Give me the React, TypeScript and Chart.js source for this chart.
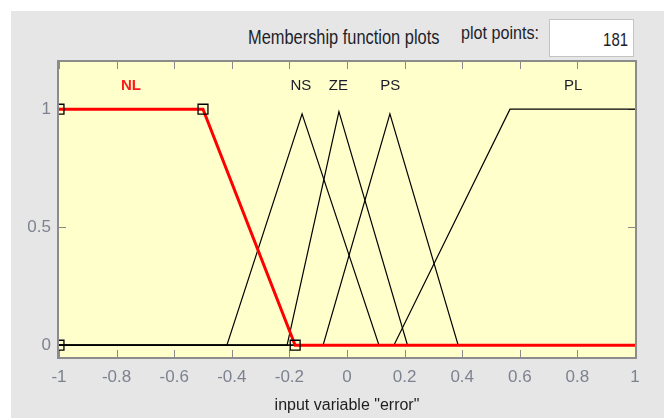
import React, { useEffect, useRef } from "react";
import { Chart, registerables } from "chart.js";

Chart.register(...registerables);

// ---- data ----
const xTickValues = [-1, -0.8, -0.6, -0.4, -0.2, 0, 0.2, 0.4, 0.6, 0.8, 1];
const yTickValues = [0, 0.5, 1];
const mfNames = ["NL", "NS", "ZE", "PS", "PL"];
const nlX = [-1, -0.5, -0.18, 1];
const nlY = [1, 1, 0, 0];
const nsX = [-1, -0.417, -0.156, 0.111, 1];
const nsY = [0, 0, 0.98, 0, 0];
const zeX = [-1, -0.208, -0.028, 0.21, 1];
const zeY = [0, 0, 0.99, 0, 0];
const psX = [-1, -0.083, 0.149, 0.386, 1];
const psY = [0, 0, 0.98, 0, 0];
const plX = [-1, 0.163, 0.566, 1];
const plY = [0, 0, 1, 1];
const nlParamX = [-1, -1, -0.5, -0.18];
const nlParamY = [0, 1, 1, 0];
const labelX = [-0.75, -0.16, -0.03, 0.15, 0.785];
const labelY = [1.1, 1.1, 1.1, 1.1, 1.1];
const labelColors = ["#ff1a1a", "#1a1a2a", "#1a1a2a", "#1a1a2a", "#1a1a2a"];
const labelWeights = ["bold", "normal", "normal", "normal", "normal"];
const plotPoints = "181";

const pts = (xs: number[], ys: number[]) => xs.map((x, i) => ({ x, y: ys[i] }));

const FONT = "'Liberation Sans', Arial, sans-serif";

const framePlugin = {
  id: "frame",
  beforeDraw(chart: any) {
    const { ctx, chartArea: a } = chart;
    ctx.save();
    ctx.fillStyle = "#ffffcc";
    ctx.fillRect(a.left, a.top, a.right - a.left, a.bottom - a.top);
    ctx.restore();
  },
  beforeDatasetsDraw(chart: any) {
    const { ctx, chartArea: a, scales } = chart;
    ctx.save();
    ctx.strokeStyle = "#8a8a8a";
    ctx.lineWidth = 1;
    const tl = 7;
    xTickValues.forEach((v) => {
      const px = Math.round(scales.x.getPixelForValue(v)) + 0.5;
      ctx.beginPath();
      ctx.moveTo(px, a.top);
      ctx.lineTo(px, a.top + tl);
      ctx.moveTo(px, a.bottom);
      ctx.lineTo(px, a.bottom - tl);
      ctx.stroke();
    });
    yTickValues.forEach((v) => {
      const py = Math.round(scales.y.getPixelForValue(v)) + 0.5;
      ctx.beginPath();
      ctx.moveTo(a.left, py);
      ctx.lineTo(a.left + tl, py);
      ctx.moveTo(a.right, py);
      ctx.lineTo(a.right - tl, py);
      ctx.stroke();
    });
    ctx.restore();
  },
  afterDatasetsDraw(chart: any) {
    const { ctx, chartArea: a, scales } = chart;
    ctx.save();
    ctx.textAlign = "center";
    ctx.textBaseline = "middle";
    mfNames.forEach((n, i) => {
      ctx.font = `${labelWeights[i]} 15px ${FONT}`;
      ctx.fillStyle = labelColors[i];
      ctx.fillText(n, scales.x.getPixelForValue(labelX[i]), scales.y.getPixelForValue(labelY[i]));
    });
    ctx.strokeStyle = "#8c8c8c";
    ctx.lineWidth = 2;
    ctx.strokeRect(a.left - 1, a.top - 1, a.right - a.left + 2, a.bottom - a.top + 2);
    ctx.restore();
  },
};

const textStyle = (extra: any) => ({
  position: "absolute" as const,
  fontFamily: FONT,
  lineHeight: "22px",
  color: "#1e1e2a",
  whiteSpace: "nowrap" as const,
  ...extra,
});

export default function App() {
  const ref = useRef<HTMLCanvasElement>(null);
  useEffect(() => {
    if (!ref.current) return;
    const black = (xs: number[], ys: number[]) => ({
      type: "line" as const,
      data: pts(xs, ys),
      borderColor: "#000000",
      borderWidth: 1.2,
      pointRadius: 0,
      tension: 0,
      order: 3,
    });
    const chart = new Chart(ref.current, {
      type: "line",
      data: {
        datasets: [
          {
            type: "scatter",
            data: pts(nlParamX, nlParamY),
            pointStyle: "rect",
            pointRadius: 7,
            pointBorderColor: "#000000",
            pointBackgroundColor: "rgba(0,0,0,0)",
            pointBorderWidth: 1.3,
            showLine: false,
            clip: 0,
            order: 0,
          } as any,
          {
            data: pts(nlX, nlY),
            borderColor: "#ff0000",
            borderWidth: 3,
            pointRadius: 0,
            tension: 0,
            order: 1,
          },
          black(nsX, nsY),
          black(zeX, zeY),
          black(psX, psY),
          black(plX, plY),
        ],
      },
      options: {
        animation: false,
        responsive: false,
        layout: { padding: { top: 62, right: 29, bottom: 0, left: 0 } },
        plugins: { legend: { display: false }, tooltip: { enabled: false }, title: { display: false } },
        scales: {
          x: {
            type: "linear",
            min: -1,
            max: 1,
            grid: { display: false, drawTicks: false },
            border: { display: false },
            afterBuildTicks: (s: any) => {
              s.ticks = xTickValues.map((v) => ({ value: v }));
            },
            afterFit: (s: any) => {
              s.height = 61;
            },
            ticks: {
              padding: 10,
              color: "#7d8290",
              font: { family: FONT, size: 17 },
              maxRotation: 0,
              autoSkip: false,
              callback: (v: any) => String(Math.round(Number(v) * 10) / 10),
            },
            title: {
              display: true,
              text: 'input variable "error"',
              color: "#1e1e1e",
              font: { family: FONT, size: 16 },
              padding: { top: 0, bottom: 3 },
            },
          },
          y: {
            type: "linear",
            min: -0.05,
            max: 1.2,
            grid: { display: false, drawTicks: false },
            border: { display: false },
            afterBuildTicks: (s: any) => {
              s.ticks = yTickValues.map((v) => ({ value: v }));
            },
            afterFit: (s: any) => {
              s.width = 59;
            },
            ticks: {
              padding: 8,
              color: "#7d8290",
              font: { family: FONT, size: 17 },
              callback: (v: any) => String(Math.round(Number(v) * 10) / 10),
            },
          },
        },
      },
      plugins: [framePlugin],
    });
    return () => chart.destroy();
  }, []);

  return (
    <div style={{ position: "fixed", left: 0, top: 0, width: 664, height: 418, background: "#ffffff", overflow: "hidden" }}>
      <div style={{ position: "absolute", left: 11, top: 11, width: 653, height: 407, background: "#e6e6e6" }} />
      <div style={textStyle({ left: 248, top: 26, fontSize: 20, transform: "scaleX(0.82)", transformOrigin: "left center" })}>
        Membership function plots
      </div>
      <div style={textStyle({ left: 461, top: 22, fontSize: 19, transform: "scaleX(0.85)", transformOrigin: "left center" })}>
        plot points:
      </div>
      <div
        style={{
          position: "absolute",
          left: 549,
          top: 19,
          width: 83,
          height: 36,
          background: "#ffffff",
          border: "1px solid #c4c4c4",
          boxSizing: "content-box",
        }}
      />
      <div style={textStyle({ right: 664 - 628, top: 29, fontSize: 18, transform: "scaleX(0.83)", transformOrigin: "right center" })}>
        {plotPoints}
      </div>
      <canvas ref={ref} width={664} height={418} style={{ position: "absolute", left: 0, top: 0, width: 664, height: 418 }} />
    </div>
  );
}
